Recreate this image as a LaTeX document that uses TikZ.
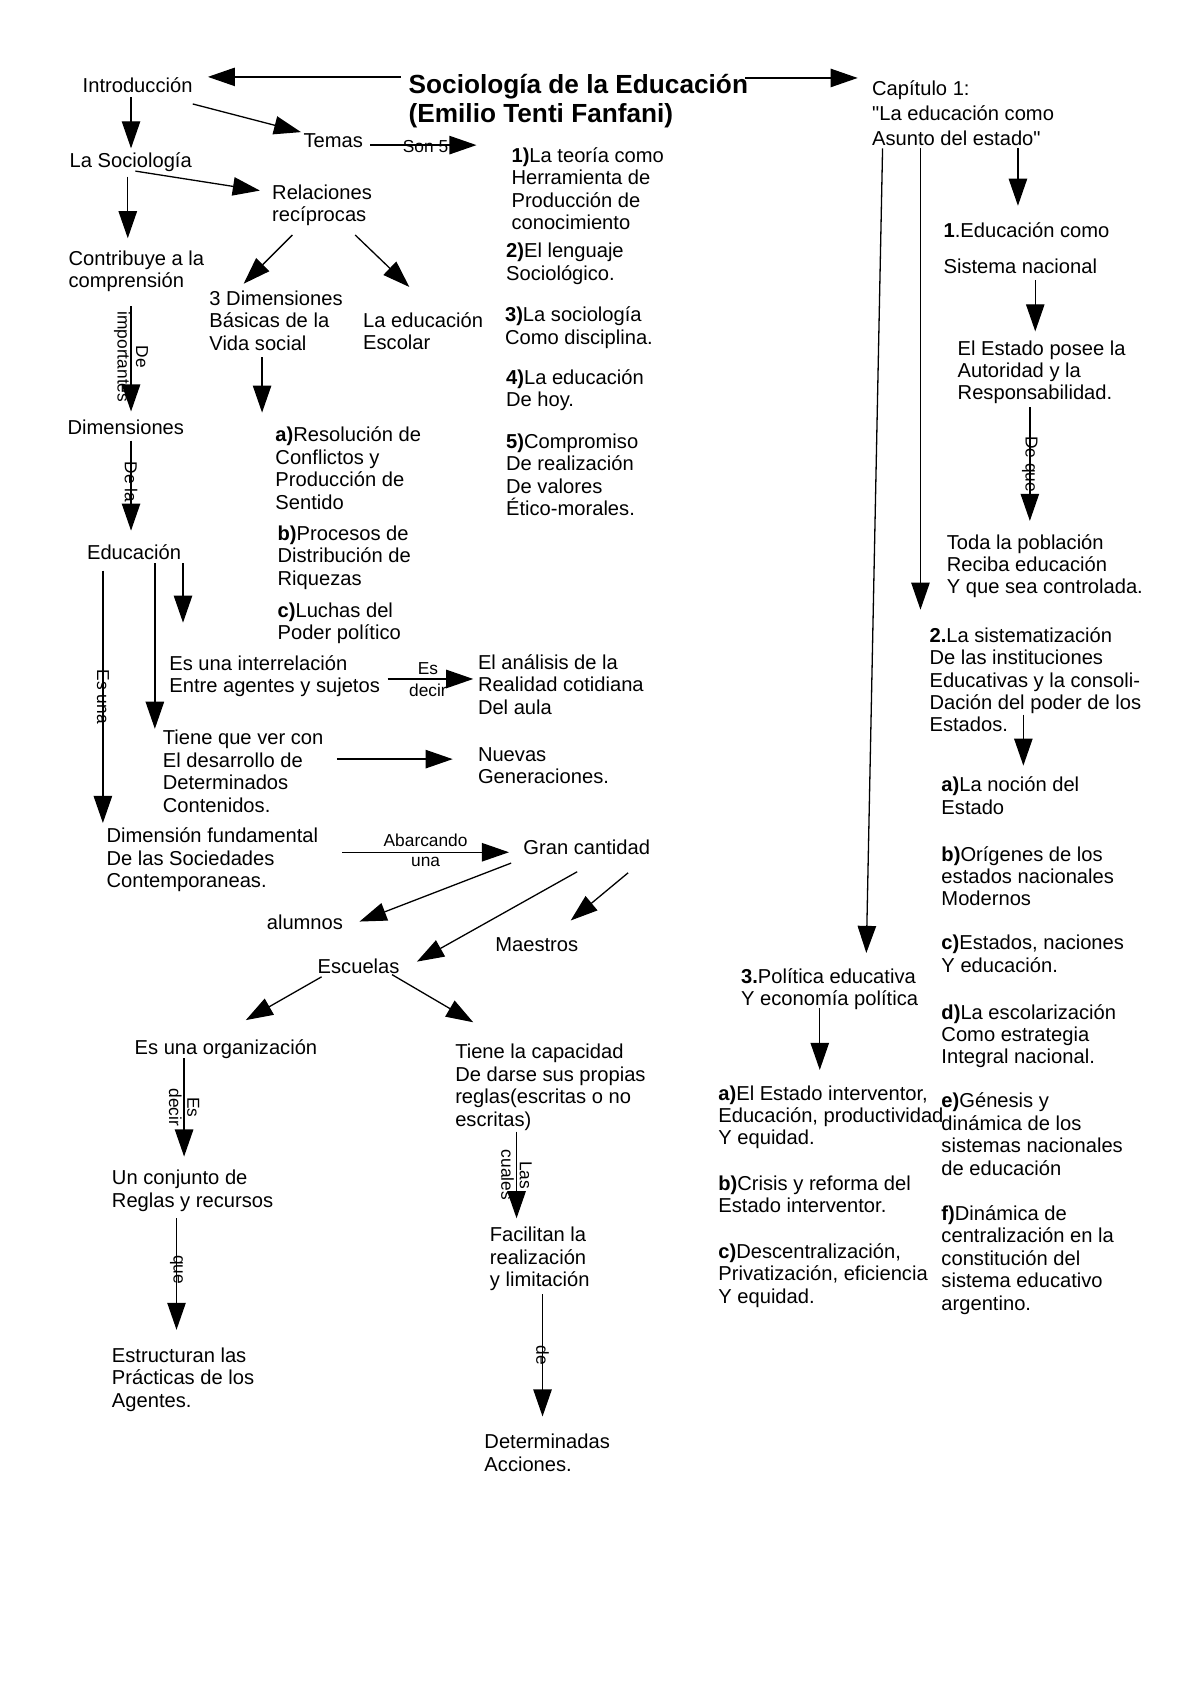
\documentclass[tikz,border=0pt]{standalone}
\usepackage{fontspec}
\setmainfont{Liberation Sans}[Ligatures=TeXOff]
\usetikzlibrary{calc,arrows.meta}

\newcommand\txtfont{\fontsize{9.3}{10.35}\selectfont}
\newcommand\titfont{\fontsize{12.1}{13.5}\selectfont\bfseries}
\newcommand\labfont{\fontsize{8}{8.5}\selectfont}

\begin{document}
\begin{tikzpicture}[x=0.5pt, y=-0.5pt,
  every node/.style={inner sep=0pt, font=\txtfont},
  box/.style={anchor=north west, align=left},
  titulo/.style={box, font=\titfont},
  lab/.style={font=\labfont, align=center},
  vlab/.style={lab, rotate=-90},
  arr/.style={line width=.6pt, -{Triangle[length=12.5pt,width=8.5pt]}}
  ]
  \fill[white] (0,0) rectangle (1108,1568);

  % titulo y primer nivel
  \node (tit) [titulo] at (377,68) {Sociología de la Educación\\(Emilio Tenti Fanfani)};
  \node (intro) [box] at (76,71) {Introducción};
  \node (cap) [box] at (805,74) {Capítulo 1:\\[1.2pt]"La educación como\\[1.2pt]Asunto del estado"};

  % rama izquierda
  \node (temas) [box] at (280,123) {Temas};
  \node (socio) [box] at (64,141) {La Sociología};
  \node (t1) [box] at (472,136) {\textbf{1)}La teoría como\\Herramienta de\\Producción de\\conocimiento};
  \node (t2) [box] at (467,224) {\textbf{2)}El lenguaje\\Sociológico.};
  \node (t3) [box] at (466,283) {\textbf{3)}La sociología\\Como disciplina.};
  \node (t4) [box] at (467,341) {\textbf{4)}La educación\\De hoy.};
  \node (t5) [box] at (467,400) {\textbf{5)}Compromiso\\De realización\\De valores\\Ético-morales.};
  \node (rel) [box] at (251,170) {Relaciones\\recíprocas};
  \node (contrib) [box] at (63,231) {Contribuye a la\\comprensión};
  \node (dim3) [box] at (193,268) {3 Dimensiones\\Básicas de la\\Vida social};
  \node (escolar) [box] at (335,288) {La educación\\Escolar};
  \node (dims) [box] at (62,387) {Dimensiones};
  \node (edu) [box] at (80,503) {Educación};
  \node (da) [box] at (254,394) {\textbf{a)}Resolución de\\Conflictos y\\Producción de\\Sentido};
  \node (db) [box] at (256,485) {\textbf{b)}Procesos de\\Distribución de\\Riquezas};
  \node (dc) [box] at (256,556) {\textbf{c)}Luchas del\\Poder político};
  \node (inter) [box] at (156,605) {Es una interrelación\\Entre agentes y sujetos};
  \node (analisis) [box] at (441,604) {El análisis de la\\Realidad cotidiana\\Del aula};
  \node (tiene) [box] at (150,674) {Tiene que ver con\\El desarrollo de\\Determinados\\Contenidos.};
  \node (nuevas) [box] at (441,690) {Nuevas\\Generaciones.};
  \node (fund) [box] at (98,764) {Dimensión fundamental\\De las Sociedades\\Contemporaneas.};
  \node (gran) [box] at (483,775) {Gran cantidad};
  \node (alumnos) [box] at (246,844) {alumnos};
  \node (maestros) [box] at (457,865) {Maestros};
  \node (escuelas) [box] at (293,885) {Escuelas};
  \node (org) [box] at (124,960) {Es una organización};
  \node (capac) [box] at (420,964) {Tiene la capacidad\\De darse sus propias\\reglas(escritas o no\\escritas)};
  \node (conj) [box] at (103,1080) {Un conjunto de\\Reglas y recursos};
  \node (estruct) [box] at (103,1244) {Estructuran las\\Prácticas de los\\Agentes.};
  \node (facil) [box] at (452,1133) {Facilitan la\\realización\\y limitación};
  \node (determ) [box] at (447,1324) {Determinadas\\Acciones.};

  % rama derecha
  \node (ed1) [box] at (871,205) {\textbf{1}.Educación como\\[6.5pt]Sistema nacional};
  \node (estado) [box] at (884,314) {El Estado posee la\\Autoridad y la\\Responsabilidad.};
  \node (toda) [box] at (874,493) {Toda la población\\Reciba educación\\Y que sea controlada.};
  \node (sist2) [box] at (858,579) {\textbf{2.}La sistematización\\De las instituciones\\Educativas y la consoli-\\Dación del poder de los\\Estados.};
  \node (na) [box] at (869,717) {\textbf{a)}La noción del\\Estado};
  \node (nb) [box] at (869,781) {\textbf{b)}Orígenes de los\\estados nacionales\\Modernos};
  \node (nc) [box] at (869,863) {\textbf{c)}Estados, naciones\\Y educación.};
  \node (nd) [box] at (869,927) {\textbf{d)}La escolarización\\Como estrategia\\Integral nacional.};
  \node (ne) [box] at (869,1009) {\textbf{e)}Génesis y\\dinámica de los\\sistemas nacionales\\de educación};
  \node (nf) [box] at (869,1113) {\textbf{f)}Dinámica de\\centralización en la\\constitución del\\sistema educativo\\argentino.};
  \node (pol3) [box] at (684,894) {\textbf{3.}Política educativa\\Y economía política};
  \node (pa) [box] at (663,1002) {\textbf{a)}El Estado interventor,\\Educación, productividad\\Y equidad.};
  \node (pb) [box] at (663,1085) {\textbf{b)}Crisis y reforma del\\Estado interventor.};
  \node (pc) [box] at (663,1148) {\textbf{c)}Descentralización,\\Privatización, eficiencia\\Y equidad.};

  % flechas
  \draw[arr] ($(tit.north west)+(-7,3)$) -- ($(intro.north west)+(116,0)$);
  \draw[arr] ($(tit.north west)+(311,4)$) -- ($(cap.north west)+(-13,-2)$);
  \draw[arr] ($(intro.north west)+(45,19)$) -- ($(socio.north west)+(57,-4)$);
  \draw[arr] ($(intro.north west)+(102,25)$) -- ($(temas.north west)+(-2,-1)$);
  \draw[arr] ($(temas.north west)+(62,11)$) -- ($(t1.north west)+(-32,-2)$)
    node[lab, pos=.52, yshift=-.5pt] {Son 5};
  \draw[arr] ($(socio.north west)+(61,17)$) -- ($(rel.north west)+(-11,6)$);
  \draw[arr] ($(socio.north west)+(54,22)$) -- ($(contrib.north west)+(55,-11)$);
  \draw[arr] ($(rel.north west)+(19,47)$) -- ($(dim3.north west)+(32,-6)$);
  \draw[arr] ($(rel.north west)+(77,47)$) -- ($(escolar.north west)+(43,-23)$);
  \draw[arr] ($(contrib.north west)+(58,52)$) -- ($(dims.north west)+(59,-7)$)
    node[vlab, pos=.48] {De\\importantes};
  \draw[arr] ($(dims.north west)+(59,20)$) -- ($(edu.north west)+(41,-13)$)
    node[vlab, pos=.46] {De la};
  \draw[arr] ($(edu.north west)+(89,17)$) -- ($(inter.north west)+(13,-30)$);
  \draw[arr] ($(edu.north west)+(63,17)$) -- ($(tiene.north west)+(-7,-1)$);
  \draw[arr] ($(edu.north west)+(15,24)$) -- ($(fund.north west)+(-3,-4)$)
    node[vlab, pos=.5] {Es una};
  \draw[arr] ($(dim3.north west)+(49,62)$) -- ($(da.north west)+(-12,-13)$);
  \draw[arr] ($(inter.north west)+(202,22)$) -- ($(analisis.north west)+(-4,23)$)
    node[lab, pos=.47, yshift=5pt] {Es}
    node[lab, pos=.47, yshift=-5pt] {decir};
  \draw[arr] ($(tiene.north west)+(161,27)$) -- ($(nuevas.north west)+(-23,11)$);
  \draw[arr] ($(fund.north west)+(218,23)$) -- ($(gran.north west)+(-13,12)$)
    node[lab, pos=.5, yshift=5.5pt] {Abarcando}
    node[lab, pos=.5, yshift=-4.5pt] {una};
  \draw[arr] ($(gran.north west)+(-11,22)$) -- ($(alumnos.north west)+(86,7)$);
  \draw[arr] ($(gran.north west)+(50,30)$) -- ($(escuelas.north west)+(92,3)$);
  \draw[arr] ($(gran.north west)+(97,31)$) -- ($(maestros.north west)+(70,-15)$);
  \draw[arr] ($(escuelas.north west)+(4,17)$) -- ($(org.north west)+(103,-18)$);
  \draw[arr] ($(escuelas.north west)+(69,15)$) -- ($(capac.north west)+(17,-20)$);
  \draw[arr] ($(org.north west)+(46,17)$) -- ($(conj.north west)+(67,-12)$)
    node[vlab, pos=.5] {Es\\decir};
  \draw[arr] ($(conj.north west)+(60,45)$) -- ($(estruct.north west)+(60,-16)$)
    node[vlab, pos=.46] {que};
  \draw[arr] ($(capac.north west)+(57,81)$) -- ($(facil.north west)+(25,-8)$)
    node[vlab, pos=.5] {Las\\cuales};
  \draw[arr] ($(facil.north west)+(49,62)$) -- ($(determ.north west)+(54,-16)$)
    node[vlab, pos=.5] {de};

  \draw[arr] ($(cap.north west)+(135,63)$) -- ($(ed1.north west)+(69,-15)$);
  \draw[arr] ($(ed1.north west)+(85,54)$) -- ($(estado.north west)+(72,-8)$);
  \draw[arr] ($(estado.north west)+(67,62)$) -- ($(toda.north west)+(77,-12)$)
    node[vlab, pos=.5] {De que};
  \draw[arr] ($(cap.north west)+(45,63)$) -- ($(sist2.north west)+(-8,-16)$);
  \draw[arr] ($(cap.north west)+(10,63)$) -- ($(pol3.north west)+(116,-14)$);
  \draw[arr] ($(sist2.north west)+(87,81)$) -- ($(na.north west)+(76,-10)$);
  \draw[arr] ($(pol3.north west)+(73,37)$) -- ($(pa.north west)+(94,-14)$);
\end{tikzpicture}
\end{document}
